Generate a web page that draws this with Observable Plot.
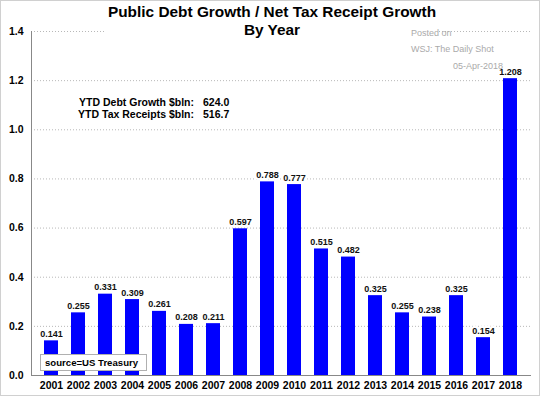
<!DOCTYPE html>
<html>
<head>
<meta charset="utf-8">
<script src="https://cdn.jsdelivr.net/npm/d3@7"></script>
<script src="https://cdn.jsdelivr.net/npm/@observablehq/plot@0.6"></script>
<style>
  html, body { margin: 0; padding: 0; background: #fff; }
  #wrap { position: relative; width: 540px; height: 396px; overflow: hidden; font-family: "Liberation Sans", Arial, sans-serif; background: #fff; }
  #wrap svg { position: absolute; left: 0; top: 0; }
  #border { position: absolute; left: 0; top: 0; width: 538px; height: 394px; border: 1px solid #d0d0d0; pointer-events: none; }
  .title { position: absolute; left: 0; top: 3px; width: 544px; text-align: center; }
  .title span { display: inline-block; background: #fff; font-weight: bold; font-size: 15.4px; line-height: 18px; color: #000; padding: 0 2px; }
  .posted { position: absolute; left: 411px; top: 24.6px; width: 92px; font-size: 9px; line-height: 16.5px; color: #aaa; }
  .posted div:last-child { text-align: right; }
  .ytdlab { position: absolute; left: 0; width: 194px; text-align: right; font-weight: bold; font-size: 10.5px; line-height: 12.5px; color: #000; }
  .ytdval { position: absolute; left: 203px; font-weight: bold; font-size: 10.5px; line-height: 12.5px; color: #000; }
  .source { position: absolute; left: 40px; top: 354px; width: 101px; height: 15px; line-height: 15px; padding-left: 4px; background: #fff; border: 1px solid #b0b0b0; font-weight: bold; font-size: 9.6px; color: #000; box-sizing: content-box; }
</style>
</head>
<body>
<div id="wrap"></div>
<script>
const years = ["2001","2002","2003","2004","2005","2006","2007","2008","2009","2010","2011","2012","2013","2014","2015","2016","2017","2018"];
const ratios = [0.141,0.255,0.331,0.309,0.261,0.208,0.211,0.597,0.788,0.777,0.515,0.482,0.325,0.255,0.238,0.325,0.154,1.208];
const yTicks = [0,0.2,0.4,0.6,0.8,1.0,1.2,1.4];
const titleLines = ["Public Debt Growth / Net Tax Receipt Growth", "By Year"];
const postedLines = ["Posted on", "WSJ: The Daily Shot", "05-Apr-2018"];
const ytdLabels = ["YTD Debt Growth $bln:", "YTD Tax Receipts $bln:"];
const ytdValues = [624.0, 516.7];
const sourceText = "source=US Treasury";

const data = years.map((y, i) => ({year: y, value: ratios[i]}));

const chart = Plot.plot({
  width: 540,
  height: 396,
  marginLeft: 31,
  marginRight: 9,
  marginTop: 31,
  marginBottom: 21,
  style: {fontFamily: "'Liberation Sans', Arial, sans-serif", background: "transparent", color: "#000"},
  x: {domain: years, padding: 0.47, label: null},
  y: {domain: [0, 1.4], label: null},
  marks: [
    Plot.gridY(yTicks.filter(d => d > 0), {stroke: "#b8b8b8", strokeOpacity: 1, strokeDasharray: "1,2"}),
    Plot.barY(data, {x: "year", y: "value", fill: "#0000ff"}),
    Plot.text(data, {x: "year", y: "value", text: d => d3.format(".3f")(d.value), lineAnchor: "bottom", dy: -4, fontSize: 9, fontWeight: "bold", fill: "#111", stroke: "#fff", strokeWidth: 4, paintOrder: "stroke"}),
    Plot.ruleY([0], {stroke: "#888"}),
    Plot.frame({anchor: "left", stroke: "#888"}),
    Plot.axisY(yTicks, {tickSize: 0, tickPadding: 8, tickFormat: d3.format(".1f"), fontSize: 10.5, fontWeight: "bold", label: null}),
    Plot.axisX({tickSize: 0, tickPadding: 6, fontSize: 10.5, fontWeight: "bold", label: null})
  ]
});

const wrap = document.getElementById("wrap");
wrap.appendChild(chart);

const t = document.createElement("div");
t.className = "title";
const ts = document.createElement("span");
ts.innerHTML = titleLines.join("<br>");
t.appendChild(ts);
wrap.appendChild(t);

const p = document.createElement("div");
p.className = "posted";
postedLines.forEach(s => { const d = document.createElement("div"); d.textContent = s; p.appendChild(d); });
wrap.appendChild(p);

ytdLabels.forEach((lab, i) => {
  const l = document.createElement("div");
  l.className = "ytdlab";
  l.style.top = (95.6 + i * 12) + "px";
  l.textContent = lab;
  wrap.appendChild(l);
  const v = document.createElement("div");
  v.className = "ytdval";
  v.style.top = (95.6 + i * 12) + "px";
  v.textContent = d3.format(".1f")(ytdValues[i]);
  wrap.appendChild(v);
});

const src = document.createElement("div");
src.className = "source";
src.textContent = sourceText;
wrap.appendChild(src);

const b = document.createElement("div");
b.id = "border";
wrap.appendChild(b);
</script>
</body>
</html>
